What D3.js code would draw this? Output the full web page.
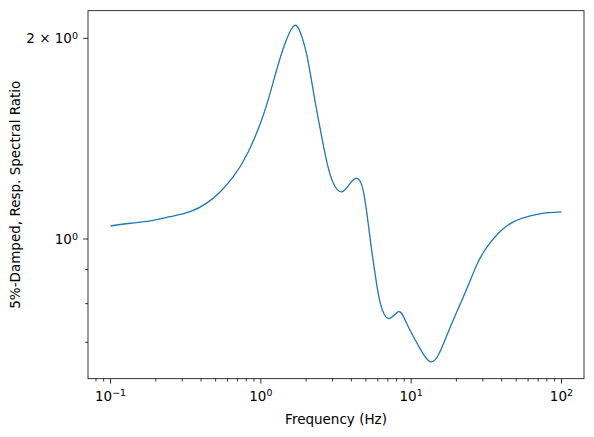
<!DOCTYPE html>
<html>
<head>
<meta charset="utf-8">
<script src="https://cdn.jsdelivr.net/npm/d3@7"></script>
<style>
  body { margin: 0; background: #fff; }
  text { font-family: "DejaVu Sans", sans-serif; fill: #000; }
</style>
</head>
<body>
<script>
// values
var freqs = [0.1, 0.1348, 0.1831, 0.2488, 0.338, 0.4365, 0.5354, 0.656, 0.826, 1.039,
             1.211, 1.411, 1.645, 1.823, 2.021, 2.236, 2.477, 2.745, 3.037, 3.453,
             3.922, 4.333, 4.808, 5.33, 5.75, 6.21, 7.05, 8.22, 9.11, 10.34,
             11.77, 13.36, 15.17, 17.68, 20.61, 24.02, 28.0, 32.63, 38.04, 43.26,
             48.97, 55.8, 72.06, 100];
var ratios = [1.046, 1.056, 1.065, 1.080, 1.099, 1.132, 1.176, 1.240, 1.352, 1.535,
              1.722, 1.932, 2.084, 2.046, 1.888, 1.664, 1.466, 1.306, 1.212, 1.177,
              1.212, 1.233, 1.180, 1.003, 0.888, 0.804, 0.760, 0.778, 0.756, 0.714,
              0.678, 0.655, 0.670, 0.726, 0.787, 0.853, 0.925, 0.979, 1.020, 1.046,
              1.064, 1.076, 1.091, 1.098];
var xMajor = [0.1, 1, 10, 100];
var xMajorExp = ["\u22121", "0", "1", "2"];
var yLabelled = [1, 2];
var yLabelMant = ["", "2 \u00d7 "];
var yMinor = [0.7, 0.8, 0.9];

const W = 594, H = 437;
const margin = {top: 10.7, right: 10, bottom: 58.3, left: 88};
const width = W - margin.left - margin.right;
const height = H - margin.top - margin.bottom;

var svg = d3.select("body").append("svg")
    .attr("width", W)
    .attr("height", H);

var g = svg.append("g")
    .attr("transform", "translate(" + margin.left + "," + margin.top + ")");

var x = d3.scaleLog()
    .domain([Math.pow(10, -1.15), Math.pow(10, 2.15)])
    .range([0, width]);

var y = d3.scaleLog()
    .domain([0.6173, 2.200])
    .range([height, 0]);

// x minor ticks
var xMinor = [];
for (var e = -2; e <= 2; e++) {
    for (var m = 2; m <= 9; m++) {
        var v = m * Math.pow(10, e);
        if (v >= x.domain()[0] && v <= x.domain()[1]) xMinor.push(v);
    }
}

g.selectAll(".xminor").data(xMinor).enter().append("line")
    .attr("x1", d => x(d)).attr("x2", d => x(d))
    .attr("y1", height).attr("y2", height + 2.8)
    .attr("stroke", "#000").attr("stroke-width", 0.8);

g.selectAll(".xmajor").data(xMajor).enter().append("line")
    .attr("x1", d => x(d)).attr("x2", d => x(d))
    .attr("y1", height).attr("y2", height + 4.9)
    .attr("stroke", "#000").attr("stroke-width", 0.8);

var xl = g.selectAll(".xlab").data(xMajor).enter().append("text")
    .attr("x", d => x(d))
    .attr("y", height + 22)
    .attr("text-anchor", "middle")
    .style("font-size", "13.5px");
xl.append("tspan").text("10");
xl.append("tspan").attr("dy", "-0.45em").style("font-size", "9.5px")
    .text((d, i) => xMajorExp[i]);

// y ticks
g.selectAll(".yminor").data(yMinor).enter().append("line")
    .attr("x1", -2.8).attr("x2", 0)
    .attr("y1", d => y(d)).attr("y2", d => y(d))
    .attr("stroke", "#000").attr("stroke-width", 0.8);

g.selectAll(".ymajor").data(yLabelled).enter().append("line")
    .attr("x1", -4.9).attr("x2", 0)
    .attr("y1", d => y(d)).attr("y2", d => y(d))
    .attr("stroke", "#000").attr("stroke-width", 0.8);

var yl = g.selectAll(".ylab").data(yLabelled).enter().append("text")
    .attr("x", -10)
    .attr("y", d => y(d) + 5)
    .attr("text-anchor", "end")
    .style("font-size", "13.5px")
    .style("white-space", "pre");
yl.append("tspan").text((d, i) => yLabelMant[i] + "10");
yl.append("tspan").attr("dy", "-0.45em").style("font-size", "9.5px").text("0");

// the curve
var line = d3.line()
    .x((d, i) => x(freqs[i]))
    .y(d => y(d))
    .curve(d3.curveNatural);

g.append("path")
    .datum(ratios)
    .attr("d", line)
    .attr("fill", "none")
    .attr("stroke", "#1f77b4")
    .attr("stroke-width", 1.3);

// frame
g.append("rect")
    .attr("width", width).attr("height", height)
    .attr("fill", "none").attr("stroke", "#000").attr("stroke-width", 0.8);

// axis titles
g.append("text")
    .attr("x", width / 2).attr("y", height + 45)
    .attr("text-anchor", "middle")
    .style("font-size", "13.5px")
    .text("Frequency (Hz)");

g.append("text")
    .attr("transform", "translate(" + (-margin.left + 20) + "," + (height / 2) + ") rotate(-90)")
    .attr("text-anchor", "middle")
    .style("font-size", "13.5px")
    .text("5%-Damped, Resp. Spectral Ratio");
</script>
</body>
</html>
